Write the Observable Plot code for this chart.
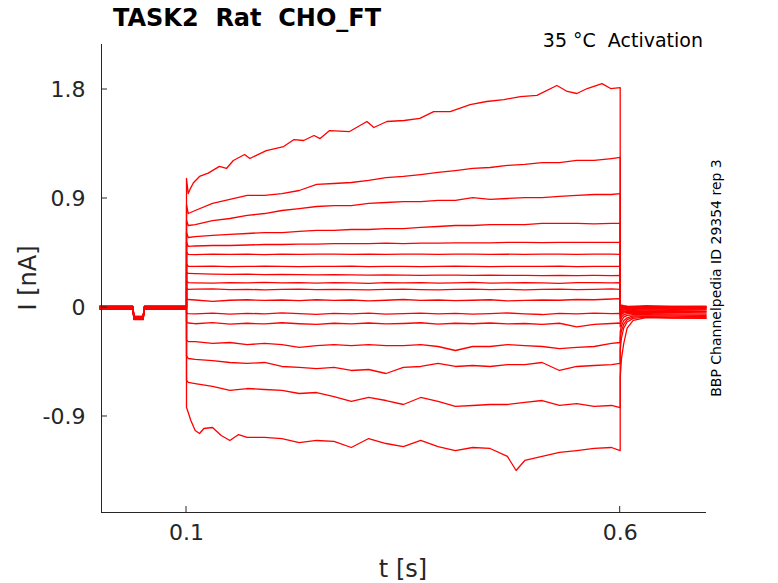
<!DOCTYPE html>
<html>
<head>
<meta charset="utf-8">
<script src="https://cdn.jsdelivr.net/npm/d3@7"></script>
<script src="https://cdn.jsdelivr.net/npm/@observablehq/plot@0.6"></script>
<style>
  html, body { margin: 0; padding: 0; background: white; }
</style>
</head>
<body>
<div id="chart"></div>
<script>
// ---- axis ticks ----
const xTicks = [0.1, 0.6];
const yTicks = [-0.9, 0, 0.9, 1.8];

// ---- pre-pulse baseline (shared), per-sweep small offsets ----
const baselineTimes = [0, 0.038, 0.0395, 0.05, 0.0515, 0.1];
const baselineCurrents = [0, 0, -0.085, -0.085, 0, 0];
const baselineOffsets = [0.006, -0.006, 0.012, 0, -0.012, 0.009, -0.003, 0.003, -0.009, 0.012, -0.015, 0.006, 0, -0.006, 0.009, -0.012, 0.003];

// ---- step portion (0.1 s .. 0.6 s), first value = onset peak ----
const stepTimes = [0.1, 0.102, 0.11, 0.13, 0.15, 0.17, 0.19, 0.21, 0.23, 0.25, 0.27, 0.29, 0.31, 0.33, 0.35, 0.37, 0.39, 0.41, 0.43, 0.45, 0.47, 0.49, 0.51, 0.53, 0.55, 0.57, 0.59, 0.6];
const sweep01Times = [0.1, 0.102, 0.104, 0.108, 0.115, 0.125, 0.138, 0.146, 0.154, 0.167, 0.173, 0.192, 0.212, 0.224, 0.235, 0.247, 0.254, 0.265, 0.288, 0.308, 0.316, 0.331, 0.351, 0.369, 0.385, 0.404, 0.427, 0.446, 0.466, 0.485, 0.504, 0.527, 0.539, 0.550, 0.562, 0.579, 0.589, 0.6];
const sweep01 = [1.065, 0.941, 0.975, 1.03, 1.082, 1.11, 1.165, 1.148, 1.214, 1.263, 1.230, 1.296, 1.329, 1.387, 1.379, 1.420, 1.395, 1.461, 1.453, 1.536, 1.486, 1.536, 1.544, 1.561, 1.618, 1.618, 1.676, 1.701, 1.717, 1.742, 1.751, 1.833, 1.784, 1.767, 1.808, 1.849, 1.808, 1.816];
const sweep02 = [0.85, 0.776, 0.801, 0.859, 0.892, 0.925, 0.925, 0.941, 0.966, 1.016, 1.024, 1.032, 1.049, 1.073, 1.082, 1.098, 1.115, 1.131, 1.148, 1.156, 1.173, 1.181, 1.197, 1.197, 1.214, 1.214, 1.230, 1.239];
const sweep03 = [0.72, 0.677, 0.685, 0.718, 0.735, 0.760, 0.776, 0.801, 0.817, 0.834, 0.842, 0.842, 0.859, 0.867, 0.875, 0.875, 0.884, 0.884, 0.908, 0.892, 0.900, 0.908, 0.908, 0.917, 0.925, 0.933, 0.933, 0.941];
const sweep04 = [0.62, 0.578, 0.586, 0.595, 0.603, 0.611, 0.619, 0.619, 0.628, 0.636, 0.636, 0.644, 0.644, 0.652, 0.652, 0.661, 0.669, 0.677, 0.677, 0.685, 0.685, 0.685, 0.694, 0.694, 0.694, 0.690, 0.694, 0.694];
const sweep05 = [0.54, 0.504, 0.508, 0.512, 0.512, 0.516, 0.520, 0.520, 0.524, 0.524, 0.528, 0.528, 0.528, 0.532, 0.528, 0.532, 0.532, 0.533, 0.533, 0.533, 0.537, 0.537, 0.535, 0.537, 0.537, 0.537, 0.537, 0.537];
const sweep06 = [0.46, 0.438, 0.436, 0.440, 0.438, 0.440, 0.437, 0.440, 0.438, 0.440, 0.441, 0.438, 0.440, 0.438, 0.440, 0.441, 0.438, 0.440, 0.440, 0.438, 0.440, 0.438, 0.441, 0.440, 0.438, 0.440, 0.440, 0.438];
const sweep07 = [0.36, 0.339, 0.339, 0.341, 0.337, 0.339, 0.341, 0.339, 0.338, 0.340, 0.339, 0.341, 0.338, 0.339, 0.340, 0.338, 0.339, 0.341, 0.339, 0.338, 0.340, 0.339, 0.339, 0.341, 0.338, 0.339, 0.340, 0.339];
const sweep08 = [0.29, 0.281, 0.279, 0.276, 0.274, 0.275, 0.272, 0.274, 0.272, 0.270, 0.272, 0.270, 0.268, 0.270, 0.268, 0.266, 0.268, 0.267, 0.265, 0.267, 0.265, 0.266, 0.264, 0.266, 0.264, 0.265, 0.264, 0.265];
const sweep09 = [0.22, 0.206, 0.204, 0.202, 0.206, 0.204, 0.207, 0.203, 0.205, 0.201, 0.206, 0.204, 0.200, 0.205, 0.203, 0.206, 0.202, 0.204, 0.207, 0.202, 0.204, 0.206, 0.203, 0.200, 0.205, 0.206, 0.203, 0.205];
const sweep10 = [0.16, 0.149, 0.152, 0.154, 0.148, 0.150, 0.146, 0.149, 0.152, 0.147, 0.150, 0.148, 0.146, 0.150, 0.152, 0.148, 0.145, 0.149, 0.151, 0.147, 0.150, 0.146, 0.149, 0.152, 0.147, 0.149, 0.153, 0.149];
const sweep11 = [0.07, 0.066, 0.062, 0.050, 0.060, 0.064, 0.058, 0.062, 0.056, 0.064, 0.058, 0.062, 0.055, 0.060, 0.066, 0.058, 0.062, 0.056, 0.060, 0.064, 0.055, 0.058, 0.062, 0.060, 0.066, 0.064, 0.070, 0.074];
const sweep12 = [-0.045, -0.050, -0.052, -0.046, -0.055, -0.048, -0.052, -0.044, -0.050, -0.056, -0.048, -0.052, -0.046, -0.054, -0.050, -0.046, -0.052, -0.048, -0.055, -0.050, -0.045, -0.052, -0.058, -0.048, -0.052, -0.046, -0.050, -0.048];
const sweep13 = [-0.12, -0.128, -0.134, -0.125, -0.138, -0.130, -0.136, -0.126, -0.134, -0.140, -0.130, -0.135, -0.128, -0.136, -0.132, -0.126, -0.138, -0.130, -0.134, -0.128, -0.136, -0.132, -0.140, -0.130, -0.160, -0.140, -0.132, -0.128];
const sweep14 = [-0.27, -0.281, -0.281, -0.297, -0.289, -0.306, -0.297, -0.306, -0.330, -0.314, -0.306, -0.314, -0.306, -0.314, -0.314, -0.306, -0.322, -0.355, -0.322, -0.322, -0.306, -0.314, -0.322, -0.339, -0.330, -0.322, -0.297, -0.289];
const sweep15 = [-0.40, -0.421, -0.429, -0.438, -0.454, -0.462, -0.454, -0.487, -0.495, -0.504, -0.495, -0.520, -0.512, -0.545, -0.495, -0.487, -0.462, -0.487, -0.479, -0.487, -0.471, -0.471, -0.454, -0.520, -0.487, -0.479, -0.471, -0.462];
const sweep16 = [-0.60, -0.619, -0.628, -0.652, -0.685, -0.669, -0.677, -0.685, -0.710, -0.702, -0.735, -0.776, -0.743, -0.768, -0.801, -0.743, -0.776, -0.817, -0.809, -0.801, -0.801, -0.784, -0.768, -0.809, -0.793, -0.817, -0.809, -0.826];
const sweep17Times = [0.1, 0.102, 0.105, 0.11, 0.115, 0.12, 0.13, 0.14, 0.15, 0.16, 0.17, 0.19, 0.21, 0.23, 0.25, 0.27, 0.29, 0.31, 0.33, 0.35, 0.37, 0.39, 0.41, 0.43, 0.45, 0.47, 0.48, 0.49, 0.51, 0.53, 0.55, 0.57, 0.59, 0.6];
const sweep17 = [-0.826, -0.867, -0.933, -1.016, -1.040, -0.999, -0.991, -1.057, -1.098, -1.049, -1.073, -1.073, -1.082, -1.115, -1.098, -1.106, -1.156, -1.082, -1.123, -1.148, -1.098, -1.148, -1.181, -1.156, -1.164, -1.230, -1.346, -1.263, -1.230, -1.197, -1.181, -1.164, -1.156, -1.181];

// ---- tail currents after the step (0.6 s .. 0.7 s) ----
const tailTimes = [0.6, 0.6015, 0.604, 0.608, 0.615, 0.63, 0.66, 0.699];
const tail01 = [0.01, 0.02, 0.015, 0.012, 0.01, 0.015, 0.01, 0.012];
const tail02 = [0.0, 0.01, 0.012, 0.008, 0.01, 0.006, 0.01, 0.008];
const tail03 = [-0.01, 0.0, 0.005, 0.004, 0.006, 0.002, 0.005, 0.003];
const tail04 = [-0.015, -0.005, 0.0, 0.0, -0.002, 0.002, 0.0, 0.0];
const tail05 = [-0.02, -0.01, -0.005, -0.004, -0.006, -0.003, -0.005, -0.004];
const tail06 = [-0.03, -0.015, -0.01, -0.008, -0.01, -0.008, -0.012, -0.01];
const tail07 = [-0.04, -0.025, -0.015, -0.012, -0.015, -0.012, -0.016, -0.014];
const tail08 = [-0.05, -0.03, -0.02, -0.018, -0.02, -0.02, -0.022, -0.02];
const tail09 = [-0.06, -0.04, -0.03, -0.025, -0.025, -0.028, -0.026, -0.03];
const tail10 = [-0.07, -0.05, -0.035, -0.03, -0.032, -0.03, -0.034, -0.035];
const tail11 = [-0.09, -0.06, -0.045, -0.04, -0.04, -0.042, -0.04, -0.045];
const tail12 = [-0.12, -0.08, -0.06, -0.05, -0.05, -0.05, -0.052, -0.055];
const tail13 = [-0.16, -0.11, -0.08, -0.065, -0.06, -0.06, -0.062, -0.065];
const tail14 = [-0.2, -0.15, -0.11, -0.085, -0.07, -0.07, -0.072, -0.075];
const tail15 = [-0.25, -0.19, -0.14, -0.1, -0.08, -0.075, -0.08, -0.08];
const tail16 = [-0.35, -0.25, -0.17, -0.12, -0.09, -0.08, -0.085, -0.085];
const tail17 = [-0.58, -0.42, -0.30, -0.17, -0.107, -0.083, -0.088, -0.09];

const stepSweeps = [sweep01, sweep02, sweep03, sweep04, sweep05, sweep06, sweep07, sweep08, sweep09, sweep10, sweep11, sweep12, sweep13, sweep14, sweep15, sweep16, sweep17];
const stepTimeSets = stepSweeps.map((s, i) => i === 0 ? sweep01Times : i === 16 ? sweep17Times : stepTimes);
const tails = [tail01, tail02, tail03, tail04, tail05, tail06, tail07, tail08, tail09, tail10, tail11, tail12, tail13, tail14, tail15, tail16, tail17];

const rows = [];
stepSweeps.forEach((vals, i) => {
  baselineTimes.forEach((t, j) => rows.push({sweep: i, t, I: baselineCurrents[j] + baselineOffsets[i]}));
  stepTimeSets[i].forEach((t, j) => rows.push({sweep: i, t, I: vals[j]}));
  tailTimes.forEach((t, j) => rows.push({sweep: i, t, I: tails[i][j]}));
});

const W = 778, H = 583;
const ink = "#262626";
const font = "DejaVu Sans, Liberation Sans, sans-serif";

const svg = Plot.plot({
  width: W,
  height: H,
  marginLeft: 101,
  marginRight: 72,
  marginTop: 44,
  marginBottom: 71,
  style: {fontFamily: font, background: "white", color: ink, overflow: "visible"},
  x: {domain: [0.002, 0.6995]},
  y: {domain: [-1.6927, 2.1716]},
  marks: [
    Plot.line(rows, {x: "t", y: "I", z: "sweep", stroke: "#ff0000", strokeWidth: 1.3, curve: "linear"}),
    Plot.axisX({ticks: xTicks, tickSize: 0, tickPadding: 12, fontSize: 22, tickFormat: d => String(d), label: null}),
    Plot.axisY({ticks: yTicks, tickSize: 0, tickPadding: 16, fontSize: 22, tickFormat: d => String(d), label: null}),
    Plot.ruleX([0.002], {stroke: ink, strokeWidth: 1}),
    Plot.ruleY([-1.6927], {stroke: ink, strokeWidth: 1})
  ]
});

// inward tick marks at library scale positions
const sx = svg.scale("x"), sy = svg.scale("y");
const root = d3.select(svg);
const tg = root.append("g").attr("stroke", ink).attr("stroke-width", 1);
const x0 = sx.apply(0.002), y0 = sy.apply(-1.6927);
xTicks.forEach(v => tg.append("line").attr("x1", sx.apply(v)).attr("x2", sx.apply(v)).attr("y1", y0).attr("y2", y0 - 6));
yTicks.forEach(v => tg.append("line").attr("x1", x0).attr("x2", x0 + 6).attr("y1", sy.apply(v)).attr("y2", sy.apply(v)));

// texts
root.append("text").attr("x", 113).attr("y", 26).attr("font-size", 24).attr("font-weight", "bold")
  .attr("text-anchor", "start").attr("fill", "black").attr("font-family", font).style("white-space", "pre").text("TASK2  Rat  CHO_FT");
root.append("text").attr("x", 703).attr("y", 47).attr("font-size", 19).attr("text-anchor", "end")
  .attr("fill", "black").attr("font-family", font).style("white-space", "pre").text("35 °C  Activation");
root.append("text").attr("x", 403).attr("y", 577).attr("font-size", 24).attr("text-anchor", "middle")
  .attr("fill", ink).attr("font-family", font).text("t [s]");
root.append("text").attr("transform", "translate(36,278) rotate(-90)").attr("font-size", 24).attr("text-anchor", "middle")
  .attr("fill", ink).attr("font-family", font).text("I [nA]");
root.append("text").attr("transform", "translate(721,278) rotate(-90)").attr("font-size", 14).attr("text-anchor", "middle")
  .attr("fill", "black").attr("font-family", font).text("BBP Channelpedia ID 29354 rep 3");

document.getElementById("chart").appendChild(svg);
</script>
</body>
</html>
